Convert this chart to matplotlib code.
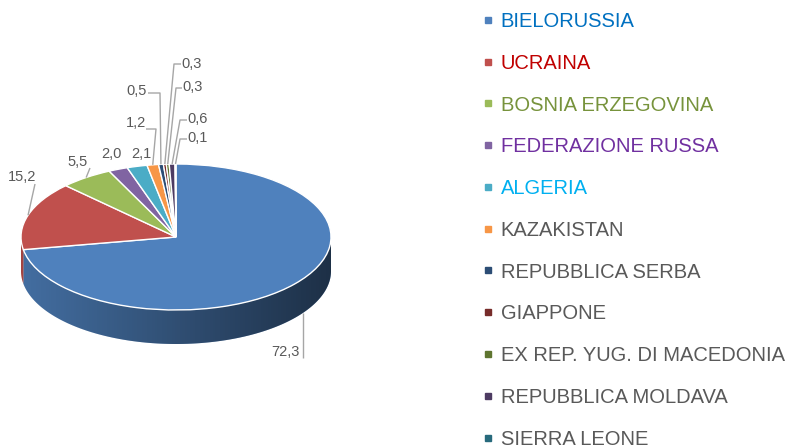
import numpy as np
import matplotlib
matplotlib.use("Agg")
import matplotlib.pyplot as plt
from matplotlib.patches import Polygon
from matplotlib.lines import Line2D

plt.rcParams['font.family'] = ['Liberation Sans', 'DejaVu Sans']

countries = ["BIELORUSSIA", "UCRAINA", "BOSNIA ERZEGOVINA", "FEDERAZIONE RUSSA",
             "ALGERIA", "KAZAKISTAN", "REPUBBLICA SERBA", "GIAPPONE",
             "EX REP. YUG. DI MACEDONIA", "REPUBBLICA MOLDAVA", "SIERRA LEONE"]
values = [72.3, 15.2, 5.5, 2.0, 2.1, 1.2, 0.5, 0.3, 0.3, 0.6, 0.1]
colors = ["#4F81BD", "#C0504D", "#9BBB59", "#8064A2", "#4BACC6", "#F79646",
          "#2C4D75", "#772C2A", "#5F7530", "#4D3B62", "#276A7C"]
text_colors = ["#0070C0", "#C00000", "#77933C", "#7030A0", "#00B0F0", "#595959",
               "#595959", "#595959", "#595959", "#595959", "#595959"]

# label layout in pixels (x, y), and leader line points from text towards slice
label_pos = [(300, 352), (22, 177), (78, 162), (111, 154), (141, 154), (136, 123),
             (137, 91), (192, 64), (193, 87), (198, 119), (198, 138)]
label_ha = ["right"] + ["center"] * 10
leaders = [[(303, 358), (303, 313)], [(35, 184)], [(90, 168)], None, None,
           [(146, 129), (156, 129)], [(148, 93), (160, 93)],
           [(181, 64), (174, 64)], [(182, 88), (176, 88)],
           [(187, 120), (180, 120)], [(187, 139), (180, 139)]]

W, H = 788, 448
CX, CY, RX, RY, DEPTH = 176, 237, 155, 73, 34
d = DEPTH / RY


def px(x, y):
    return ((x - CX) / RX, (CY - y) / RY)


fig = plt.figure(figsize=(W / 100, H / 100), dpi=100)
ax = fig.add_axes([0, 0, 1, 1])

wedges, _ = ax.pie(values, colors=colors, startangle=90, counterclock=False,
                   radius=1, center=(0, 0),
                   wedgeprops=dict(edgecolor="white", linewidth=1))

# side of the 3d pie (front half only)
for w, c in zip(wedges, colors):
    for k in (-360, 0, 360):
        lo = max(w.theta1 + k, 180)
        hi = min(w.theta2 + k, 360)
        if lo < hi:
            t = np.radians(np.linspace(lo, hi, 120))
            xs, ys = np.cos(t), np.sin(t)
            pts = np.column_stack([np.r_[xs, xs[::-1]], np.r_[ys, ys[::-1] - d]])
            ax.add_patch(Polygon(pts, closed=True, facecolor=c,
                                 edgecolor="none", zorder=0.5))

t = np.radians(np.linspace(180, 360, 240))
xs, ys = np.cos(t), np.sin(t)
side = Polygon(np.column_stack([np.r_[xs, xs[::-1]], np.r_[ys, ys[::-1] - d]]),
               closed=True, fill=False, edgecolor="none", zorder=0.4)
ax.add_patch(side)
shade = np.zeros((1, 256, 4))
shade[..., 3] = np.linspace(0.15, 0.63, 256)
im = ax.imshow(shade, extent=(-1, 1, -1 - d, 0), aspect="auto", zorder=0.6,
               interpolation="bilinear")
im.set_clip_path(side)

# data labels
for i, (w, v) in enumerate(zip(wedges, values)):
    tx, ty = label_pos[i]
    ax.text(*px(tx, ty), f"{v:.1f}".replace(".", ","), ha=label_ha[i],
            va="center", fontsize=10.5, color="#595959")
    if leaders[i] is None:
        continue
    pts = [px(x, y) for x, y in leaders[i]]
    if i > 0:
        mid = np.radians((w.theta1 + w.theta2) / 2)
        pts.append((np.cos(mid), np.sin(mid)))
    ax.plot([p[0] for p in pts], [p[1] for p in pts], color="#A6A6A6",
            lw=1, zorder=2, solid_capstyle="butt")

ax.set_aspect("auto")
ax.set_xlim(px(0, 0)[0], px(W, 0)[0])
ax.set_ylim(px(0, H)[1], px(0, 0)[1])
ax.axis("off")

handles = [Line2D([], [], marker="s", markersize=5, linestyle="none",
                  color=c) for c in colors]
ax.legend(handles, countries, loc="upper left",
          bbox_to_anchor=(484.5 / W, 1 - 12 / H), bbox_transform=fig.transFigure,
          frameon=False, fontsize=14.5, labelcolor=text_colors,
          handlelength=0.35, handletextpad=0.45, borderpad=0, borderaxespad=0,
          labelspacing=1.13)

fig.savefig("out.png", dpi=100)
